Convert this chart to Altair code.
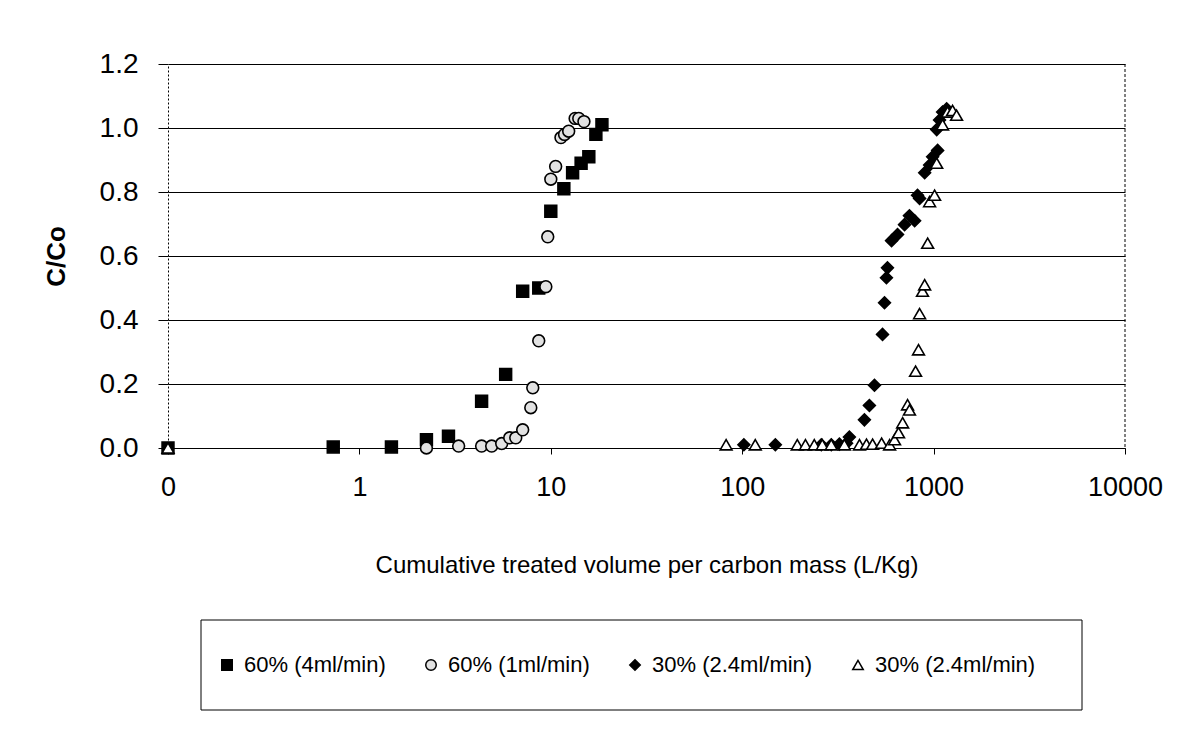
import altair as alt
import pandas as pd

FONT = "Liberation Sans, Arial, sans-serif"

# 60% (4 ml/min) - filled squares
sq_x = [0.1, 0.73, 1.47, 2.24, 2.92, 4.35, 5.81, 7.13, 8.65, 10.0, 11.7, 13.0, 14.4, 15.8, 17.2, 18.5]
sq_y = [0.0, 0.003, 0.003, 0.026, 0.037, 0.146, 0.23, 0.49, 0.50, 0.74, 0.81, 0.86, 0.89, 0.91, 0.98, 1.01]

# 60% (1 ml/min) - open circles
ci_x = [2.24, 3.30, 4.35, 4.91, 5.54, 6.10, 6.56, 7.13, 7.86, 8.05, 8.65, 9.42, 9.64, 10.0, 10.6, 11.3, 11.8, 12.4, 13.4, 14.0, 14.9]
ci_y = [0.0, 0.006, 0.006, 0.006, 0.014, 0.032, 0.032, 0.057, 0.126, 0.188, 0.335, 0.504, 0.66, 0.84, 0.88, 0.97, 0.98, 0.99, 1.03, 1.03, 1.02]

# 30% (2.4 ml/min) - filled diamonds
di_x = [102, 149, 259, 292, 322, 351, 363, 435, 462, 491, 541, 554, 567, 574, 603, 648, 705, 748, 796,
        824, 845, 898, 953, 988, 1050, 1038, 1074, 1114, 1170]
di_y = [0.01, 0.01, 0.01, 0.01, 0.012, 0.015, 0.034, 0.088, 0.133, 0.196, 0.355, 0.454, 0.532, 0.563, 0.648,
        0.667, 0.698, 0.726, 0.71, 0.79, 0.78, 0.86, 0.884, 0.91, 0.93, 0.995, 1.025, 1.05, 1.06]

# 30% (2.4 ml/min) - open triangles
tr_x = [0.1, 82.4, 117, 194, 214, 238, 262, 292, 342, 410, 446, 480, 535, 589, 625, 656, 689, 731, 748,
        805, 834, 845, 875, 898, 931, 953, 1012, 1038, 1114, 1183, 1256, 1318]
tr_y = [0.0, 0.01, 0.01, 0.01, 0.01, 0.01, 0.01, 0.01, 0.01, 0.01, 0.012, 0.012, 0.015, 0.01, 0.026, 0.048,
        0.079, 0.135, 0.119, 0.24, 0.307, 0.42, 0.49, 0.51, 0.64, 0.77, 0.79, 0.89, 1.01, 1.05, 1.055, 1.04]

keys = ["s1", "s2", "s3", "s4"]
names = ["60% (4ml/min)", "60% (1ml/min)", "30% (2.4ml/min)", "30% (2.4ml/min)"]
shapes = ["square", "circle", "diamond", "triangle-up"]
fills = ["black", "#e2e2e2", "black", "white"]

x_ticks = [0.1, 1, 10, 100, 1000, 10000]

rows = []
for k, xs, ys in zip(keys, [sq_x, ci_x, di_x, tr_x], [sq_y, ci_y, di_y, tr_y]):
    for xv, yv in zip(xs, ys):
        rows.append({"series": k, "x": xv, "y": yv})
df = pd.DataFrame(rows)

label_expr = " : ".join(
    f"datum.value == '{k}' ? '{n}'" for k, n in zip(keys, names)
) + " : ''"

legend = alt.Legend(
    title=None, orient="none", legendX=48, legendY=590, direction="horizontal", columns=4,
    labelFont=FONT, labelFontSize=22, labelColor="black", symbolSize=110,
    columnPadding=34, labelOffset=6, labelExpr=label_expr, labelLimit=400,
)

points = alt.Chart(df).mark_point(filled=True, size=140, strokeWidth=1.6, opacity=1).encode(
    x=alt.X("x:Q", scale=alt.Scale(type="log", domain=[0.1, 10000]),
            axis=alt.Axis(values=x_ticks, grid=False,
                          labelExpr="datum.value < 1 ? '0' : format(datum.value, 'd')",
                          tickSize=6, tickColor="black", domainColor="black",
                          labelFont=FONT, labelFontSize=27, labelColor="black", labelPadding=20,
                          labelFlush=False,
                          title="Cumulative treated volume per carbon mass (L/Kg)",
                          titleFont=FONT, titleFontSize=24, titleFontWeight="normal",
                          titleColor="black", titleBaseline="alphabetic", titleY=124)),
    y=alt.Y("y:Q", scale=alt.Scale(domain=[0, 1.2]),
            axis=alt.Axis(values=[0, 0.2, 0.4, 0.6, 0.8, 1.0, 1.2], format=".1f",
                          grid=True, gridColor="black", gridWidth=1, gridOpacity=1,
                          tickSize=10, tickColor="black", domainColor="black", domainDash=[2, 2],
                          labelFont=FONT, labelFontSize=28, labelColor="black", labelPadding=20,
                          title="C/Co", titleFont=FONT, titleFontSize=26, titleFontWeight="bold",
                          titleColor="black", titleX=-112, titleY=192, titleBaseline="middle",
                          titleAlign="center", titleAngle=270)),
    shape=alt.Shape("series:N", scale=alt.Scale(domain=keys, range=shapes), legend=legend),
    fill=alt.Fill("series:N", scale=alt.Scale(domain=keys, range=fills), legend=legend),
    stroke=alt.Stroke("series:N", scale=alt.Scale(domain=keys, range=["black"] * 4), legend=legend),
    order=alt.Order("series:N"),
)

deco = pd.DataFrame({"d": [0]})
box = alt.Chart(deco).mark_rect(fill="transparent", stroke="black", strokeWidth=1).encode(
    x=alt.value(33), x2=alt.value(914), y=alt.value(556), y2=alt.value(646)
)
right_edge = alt.Chart(deco).mark_rule(color="black", strokeDash=[3, 2]).encode(
    x=alt.value(957), y=alt.value(0), y2=alt.value(384)
)

chart = alt.layer(points, box, right_edge).properties(
    width=957, height=384,
    autosize=alt.AutoSizeParams(type="none"),
    padding={"left": 160, "top": 56, "right": 50, "bottom": 272},
    background="white",
).configure_view(strokeWidth=0)

chart.save("out.html", embed_options={"renderer": "svg", "actions": False})
